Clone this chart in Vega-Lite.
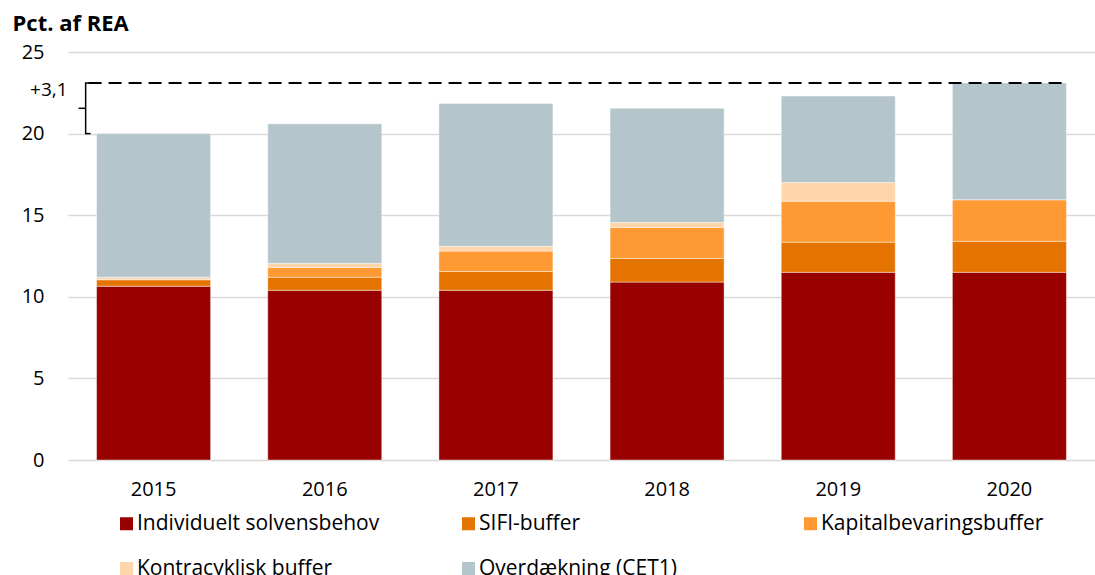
{
  "$schema": "https://vega.github.io/schema/vega-lite/v6.json",
  "width": 1027,
  "height": 408,
  "autosize": {"type": "none"},
  "padding": {"left": 68, "top": 52, "right": 0, "bottom": 115},
  "background": "white",
  "config": {
    "view": {"stroke": null},
    "font": "Open Sans",
    "axis": {"domain": false, "ticks": false, "labelFont": "Open Sans", "labelFontSize": 20, "labelColor": "#000000", "titleFont": "Open Sans"},
    "legend": {"labelFont": "Open Sans"}
  },
  "layer": [
    {
      "data": {"values": [
        {"year": "2015", "cat": "Individuelt solvensbehov", "o": 1, "value": 10.65},
        {"year": "2015", "cat": "SIFI-buffer", "o": 2, "value": 0.4},
        {"year": "2015", "cat": "Kapitalbevaringsbuffer", "o": 3, "value": 0},
        {"year": "2015", "cat": "Kontracyklisk buffer", "o": 4, "value": 0.15},
        {"year": "2015", "cat": "Overdækning (CET1)", "o": 5, "value": 8.8},
        {"year": "2016", "cat": "Individuelt solvensbehov", "o": 1, "value": 10.4},
        {"year": "2016", "cat": "SIFI-buffer", "o": 2, "value": 0.8},
        {"year": "2016", "cat": "Kapitalbevaringsbuffer", "o": 3, "value": 0.6},
        {"year": "2016", "cat": "Kontracyklisk buffer", "o": 4, "value": 0.25},
        {"year": "2016", "cat": "Overdækning (CET1)", "o": 5, "value": 8.55},
        {"year": "2017", "cat": "Individuelt solvensbehov", "o": 1, "value": 10.4},
        {"year": "2017", "cat": "SIFI-buffer", "o": 2, "value": 1.15},
        {"year": "2017", "cat": "Kapitalbevaringsbuffer", "o": 3, "value": 1.25},
        {"year": "2017", "cat": "Kontracyklisk buffer", "o": 4, "value": 0.3},
        {"year": "2017", "cat": "Overdækning (CET1)", "o": 5, "value": 8.75},
        {"year": "2018", "cat": "Individuelt solvensbehov", "o": 1, "value": 10.9},
        {"year": "2018", "cat": "SIFI-buffer", "o": 2, "value": 1.45},
        {"year": "2018", "cat": "Kapitalbevaringsbuffer", "o": 3, "value": 1.9},
        {"year": "2018", "cat": "Kontracyklisk buffer", "o": 4, "value": 0.3},
        {"year": "2018", "cat": "Overdækning (CET1)", "o": 5, "value": 7.0},
        {"year": "2019", "cat": "Individuelt solvensbehov", "o": 1, "value": 11.5},
        {"year": "2019", "cat": "SIFI-buffer", "o": 2, "value": 1.85},
        {"year": "2019", "cat": "Kapitalbevaringsbuffer", "o": 3, "value": 2.5},
        {"year": "2019", "cat": "Kontracyklisk buffer", "o": 4, "value": 1.15},
        {"year": "2019", "cat": "Overdækning (CET1)", "o": 5, "value": 5.3},
        {"year": "2020", "cat": "Individuelt solvensbehov", "o": 1, "value": 11.5},
        {"year": "2020", "cat": "SIFI-buffer", "o": 2, "value": 1.9},
        {"year": "2020", "cat": "Kapitalbevaringsbuffer", "o": 3, "value": 2.55},
        {"year": "2020", "cat": "Kontracyklisk buffer", "o": 4, "value": 0},
        {"year": "2020", "cat": "Overdækning (CET1)", "o": 5, "value": 7.15}
      ]},
      "mark": {"type": "bar", "stroke": "#ffffff", "strokeWidth": 0.6, "strokeOpacity": 0.7},
      "encoding": {
        "x": {"field": "year", "type": "nominal", "title": null,
              "scale": {"paddingInner": 0.334, "paddingOuter": 0.167},
              "axis": {"labelAngle": 0, "labelPadding": 19, "grid": false}},
        "y": {"field": "value", "type": "quantitative", "stack": "zero",
              "scale": {"domain": [0, 25], "nice": false},
              "title": "Pct. af REA",
              "axis": {"values": [0, 5, 10, 15, 20, 25], "grid": true, "gridColor": "#d9d9d9", "gridWidth": 1.5,
                       "labelPadding": 24, "titleAngle": 0, "titleAlign": "left", "titleBaseline": "alphabetic",
                       "titleX": -56, "titleY": -22, "titleFontSize": 22, "titleFontWeight": "bold", "titleColor": "#000000"}},
        "color": {"field": "cat", "type": "nominal",
                  "scale": {"domain": ["Individuelt solvensbehov", "SIFI-buffer", "Kapitalbevaringsbuffer", "Kontracyklisk buffer", "Overdækning (CET1)"],
                            "range": ["#990000", "#E57300", "#FF9933", "#FFD5AA", "#B5C5CC"]},
                  "legend": {"title": null, "orient": "none", "legendX": 48, "legendY": 461, "columns": 3, "direction": "horizontal",
                             "gridAlign": "all", "columnPadding": 78, "rowPadding": 23, "padding": 0,
                             "symbolType": "square", "symbolSize": 169, "symbolStrokeWidth": 0, "symbolOpacity": 1,
                             "labelFontSize": 21, "labelOffset": 0, "labelColor": "#000000", "labelLimit": 400}},
        "order": {"field": "o", "type": "quantitative"}
      }
    },
    {
      "data": {"values": [{"a": "2015", "b": "2020", "value": 23.1}]},
      "mark": {"type": "rule", "color": "#000000", "strokeWidth": 2, "strokeDash": [13, 7]},
      "encoding": {
        "x": {"field": "a", "type": "nominal", "bandPosition": -0.07},
        "x2": {"field": "b", "bandPosition": 0.97},
        "y": {"field": "value", "type": "quantitative"}
      }
    },
    {
      "data": {"values": [{"a": "2015", "value": 20.0, "hi": 23.1}]},
      "mark": {"type": "rule", "color": "#000000", "strokeWidth": 1.5},
      "encoding": {
        "x": {"field": "a", "type": "nominal", "bandPosition": -0.096},
        "y": {"field": "value", "type": "quantitative"},
        "y2": {"field": "hi"}
      }
    },
    {
      "data": {"values": [{"a": "2015", "value": 20.0}, {"a": "2015", "value": 23.1}]},
      "mark": {"type": "rule", "color": "#000000", "strokeWidth": 1.5},
      "encoding": {
        "x": {"field": "a", "type": "nominal", "bandPosition": -0.102},
        "x2": {"field": "a", "bandPosition": -0.053},
        "y": {"field": "value", "type": "quantitative"}
      }
    },
    {
      "data": {"values": [{"a": "2015", "value": 21.55}]},
      "mark": {"type": "rule", "color": "#000000", "strokeWidth": 1.5},
      "encoding": {
        "x": {"field": "a", "type": "nominal", "bandPosition": -0.158},
        "x2": {"field": "a", "bandPosition": -0.096},
        "y": {"field": "value", "type": "quantitative"}
      }
    },
    {
      "data": {"values": [{"a": "2015", "value": 22.67, "t": "+3,1"}]},
      "mark": {"type": "text", "align": "right", "baseline": "middle", "fontSize": 19, "font": "Open Sans", "color": "#000000"},
      "encoding": {
        "x": {"field": "a", "type": "nominal", "bandPosition": -0.254},
        "y": {"field": "value", "type": "quantitative"},
        "text": {"field": "t"}
      }
    }
  ]
}
